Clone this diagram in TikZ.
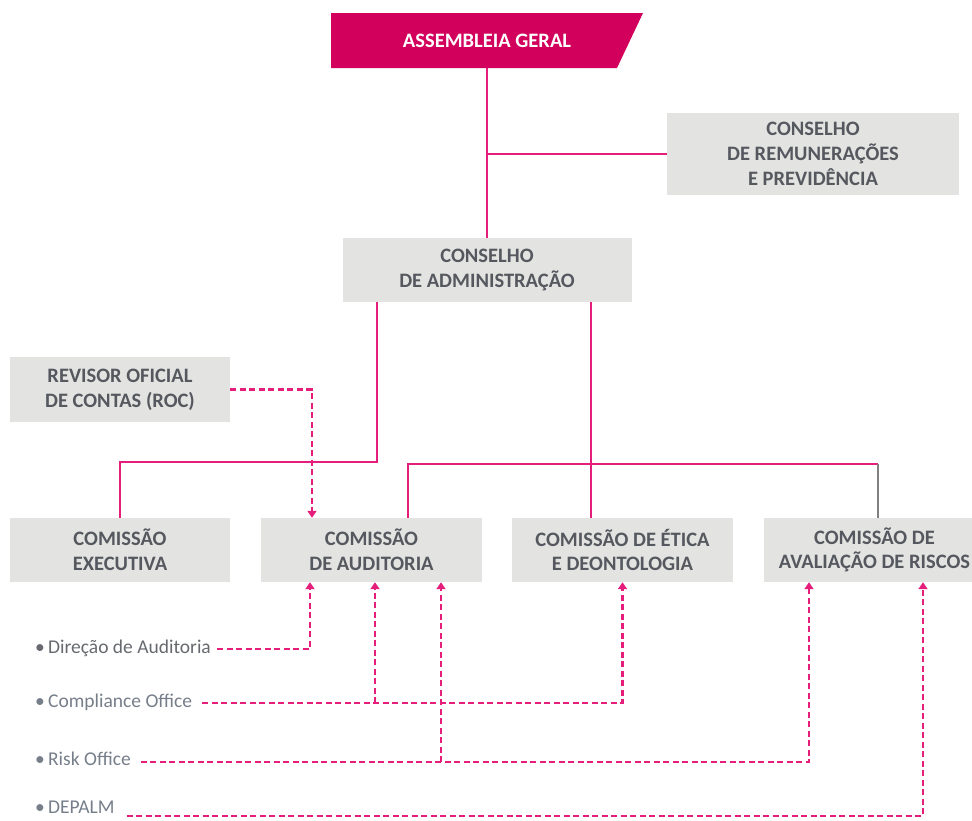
\documentclass[tikz,border=0pt]{standalone}
\usepackage{fontspec}
\setmainfont{Carlito}
\usetikzlibrary{arrows.meta}
\definecolor{agpink}{RGB}{210,0,92}
\definecolor{linkpink}{RGB}{228,30,122}
\definecolor{boxgray}{RGB}{227,227,225}
\definecolor{txtgray}{RGB}{85,88,94}
\definecolor{lblgray}{RGB}{118,126,138}
\definecolor{riskgray}{RGB}{128,128,128}

\begin{document}
\begin{tikzpicture}[x=1pt, y=-1pt,
  box/.style={fill=boxgray, align=center, inner sep=0pt, text=txtgray,
    font=\fontsize{20.5}{24.7}\selectfont\bfseries},
  link/.style={draw=linkpink, line width=2pt},
  dlink/.style={draw=linkpink, line width=2.2pt, dash pattern=on 6pt off 3.5pt},
  arr/.style={-{Triangle[width=9pt,length=7pt]}},
  lbl/.style={anchor=west, inner sep=0pt, text=lblgray,
    font=\fontsize{19.5}{21}\selectfont}]
\clip (0,0) rectangle (972,820);
% top
\node[box, fill=none, text=white, minimum width=312pt, minimum height=55pt,
  path picture={\fill[agpink] (path picture bounding box.north west)
    -- (path picture bounding box.north east)
    -- ([xshift=-26pt]path picture bounding box.south east)
    -- (path picture bounding box.south west) -- cycle;}] (AG) at (487,40.5) {ASSEMBLEIA GERAL};
\node[box, minimum width=292pt, minimum height=82pt] (CR) at (813,154) {CONSELHO\\DE REMUNERAÇÕES\\E PREVIDÊNCIA};
\node[box, minimum width=289pt, minimum height=64pt] (CA) at (487,270) {CONSELHO\\DE ADMINISTRAÇÃO};
\node[box, minimum width=220pt, minimum height=65pt] (ROC) at (120,389.5) {REVISOR OFICIAL\\DE CONTAS (ROC)};
% committees
\node[box, minimum width=220pt, minimum height=64pt] (CE) at (120,550) {COMISSÃO\\EXECUTIVA};
\node[box, minimum width=221pt, minimum height=64pt] (CAud) at (371.5,550) {COMISSÃO\\DE AUDITORIA};
\node[box, minimum width=221pt, minimum height=64pt] (CEt) at (622.5,550) {COMISSÃO DE ÉTICA\\E DEONTOLOGIA};
\node[box, minimum width=221pt, minimum height=64pt] (CAR) at (874.5,550) {COMISSÃO DE\\AVALIAÇÃO DE RISCOS};
% offices
\node[lbl, text=txtgray!90] (DA) at (35,648) {•\,Direção de Auditoria};
\node[lbl] (CO) at (35,702) {•\,Compliance Office};
\node[lbl] (RO) at (35,759) {•\,Risk Office};
\node[lbl] (DP) at (35,807) {•\,DEPALM};
% solid lines
\draw[link] (AG.south) -- (CA.north);
\coordinate (jCR) at (AG.south |- CR.west);
\draw[link] (jCR) -- (CR.west);
\draw[link] ([xshift=-110pt]CA.south) -- ++(0,160) -| (CE.north);
\draw[link] ([xshift=104pt]CA.south) -- ([xshift=104pt]CA.south |- CEt.north);
\coordinate (barL) at (408,464);
\coordinate (barR) at (878,464);
\draw[link] (CAud.north -| barL) -- (barL) -- (barR);
\draw[draw=riskgray, line width=2pt] (barR) -- (CAR.north -| barR);
% dashed lines
\draw[dlink, arr] (ROC.east) -| ([xshift=-59.5pt]CAud.north);
\draw[dlink, arr] ([xshift=6pt,yshift=-1pt]DA.east) -| ([xshift=-61.5pt]CAud.south);
\draw[dlink, arr] ([xshift=10pt,yshift=-1pt]CO.east) -| (CEt.south);
\coordinate (jCO) at ([xshift=3.5pt]CAud.south |- 0,703);
\draw[dlink, arr] (jCO) -- ([xshift=3.5pt]CAud.south);
\draw[dlink, arr] ([xshift=10pt,yshift=-3pt]RO.east) -| ([xshift=-65.5pt]CAR.south);
\coordinate (jRO) at ([xshift=69.5pt]CAud.south |- 0,762);
\draw[dlink, arr] (jRO) -- ([xshift=69.5pt]CAud.south);
\draw[dlink, arr] ([xshift=12pt,yshift=-9pt]DP.east) -| ([xshift=48.5pt]CAR.south);
\end{tikzpicture}
\end{document}
